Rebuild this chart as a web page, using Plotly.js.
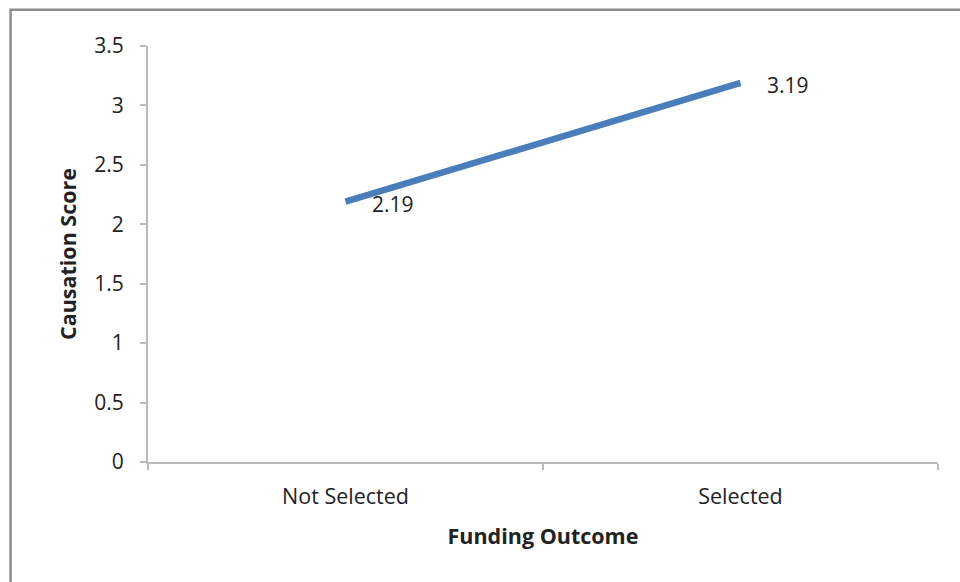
<!DOCTYPE html>
<html>
<head>
<meta charset="utf-8">
<script src="https://cdn.plot.ly/plotly-3.0.1.min.js"></script>
<style>
html,body{margin:0;padding:0;background:#fff;}
#chart{width:960px;height:582px;}
</style>
</head>
<body>
<div id="chart"></div>
<script>
const categories = ["Not Selected", "Selected"];
const scores = [2.19, 3.19];
const scoreLabels = ["2.19", "3.19"];
const yTicks = [0, 0.5, 1, 1.5, 2, 2.5, 3, 3.5];
const yTickLabels = ["0", "0.5", "1", "1.5", "2", "2.5", "3", "3.5"];

const FONT = "Open Sans, Lato, sans-serif";

const trace = {
  x: categories,
  y: scores,
  type: "scatter",
  mode: "lines",
  line: {color: "#4A7EBB", width: 6.5},
  hoverinfo: "skip",
  showlegend: false
};

const annotations = categories.map((c, i) => ({
  x: c, y: scores[i], xref: "x", yref: "y",
  text: scoreLabels[i], showarrow: false,
  xanchor: "left", yanchor: "middle",
  xshift: 24, yshift: -2,
  font: {family: FONT, size: 21, color: "#222"}
}));

const layout = {
  width: 960, height: 582,
  margin: {l: 148, r: 22, t: 46, b: 120},
  paper_bgcolor: "#fff", plot_bgcolor: "#fff",
  font: {family: FONT, color: "#222"},
  xaxis: {
    type: "category",
    range: [-0.5, 1.5],
    showgrid: false, zeroline: false,
    showline: true, linecolor: "#BBBBBB", linewidth: 2,
    ticks: "outside", tickson: "boundaries", ticklen: 6, tickcolor: "#BBBBBB", tickwidth: 2,
    ticklabelstandoff: 14,
    tickfont: {family: FONT, size: 21.5, color: "#222"},
    title: {text: "<b>Funding Outcome</b>", font: {family: FONT, size: 21.5, color: "#222"}, standoff: 20}
  },
  yaxis: {
    range: [0, 3.5],
    tickvals: yTicks, ticktext: yTickLabels,
    showgrid: false, zeroline: false,
    showline: true, linecolor: "#BBBBBB", linewidth: 2,
    ticks: "outside", ticklen: 6, tickcolor: "#BBBBBB", tickwidth: 2,
    ticklabelstandoff: 12,
    tickfont: {family: FONT, size: 21, color: "#222"},
    title: {text: "<b>Causation Score</b>", font: {family: FONT, size: 21.5, color: "#222"}, standoff: 12}
  },
  annotations: annotations,
  shapes: [
    {type: "rect", xref: "paper", yref: "paper", x0: -0.174, x1: 1.2, y0: -0.6, y1: 1.087,
     line: {color: "#8C8C8C", width: 2.5}, fillcolor: "rgba(0,0,0,0)", layer: "below"}
  ]
};

Plotly.newPlot("chart", [trace], layout, {displayModeBar: false, staticPlot: true});
</script>
</body>
</html>
